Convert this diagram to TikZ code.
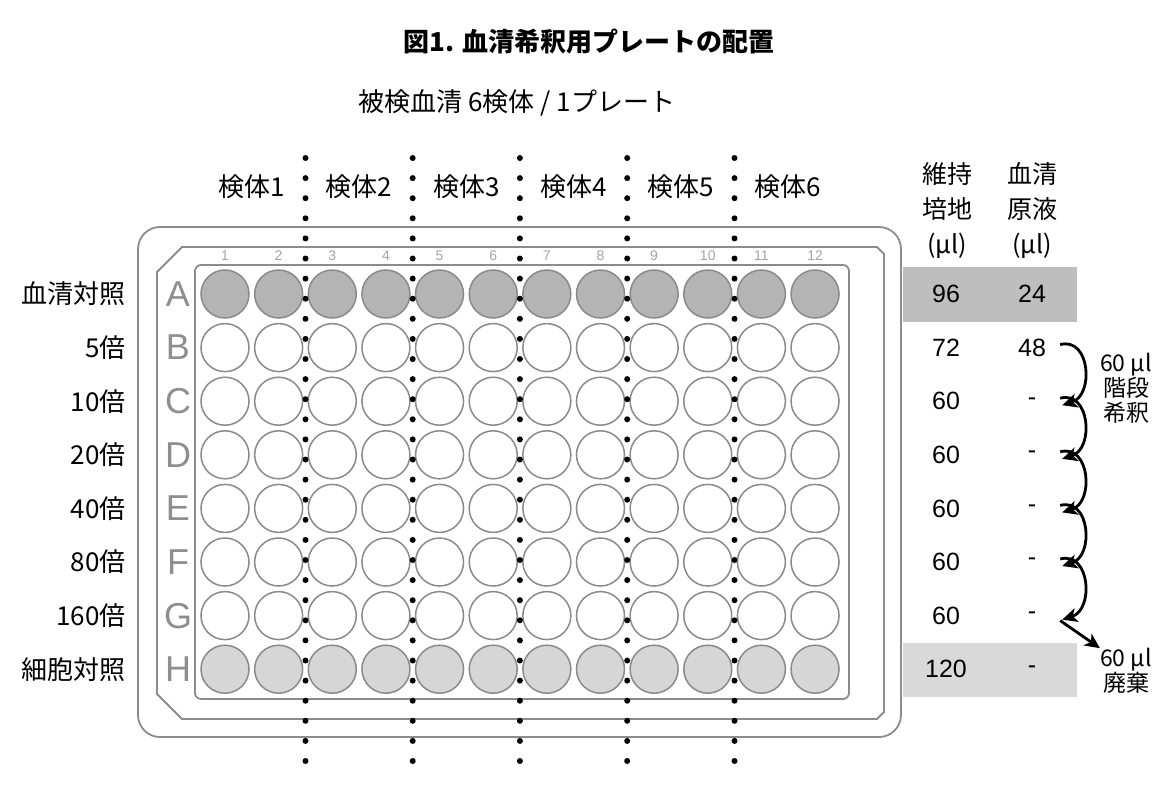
\documentclass[tikz,border=0pt]{standalone}
\usepackage{fontspec}
\setmainfont{Noto Sans CJK JP}
\newfontfamily\platefont{Liberation Sans}
\usetikzlibrary{arrows.meta,calc}
\definecolor{framegray}{HTML}{8C8C8C}
\definecolor{wellline}{HTML}{8A8A8A}
\definecolor{wellAfill}{HTML}{B4B4B4}
\definecolor{wellHfill}{HTML}{D6D6D6}
\definecolor{bandA}{HTML}{BEBEBE}
\definecolor{bandH}{HTML}{D9D9D9}
\definecolor{lettergray}{HTML}{8E8E8E}
\newcommand\bodysize{\fontsize{26}{30}\selectfont}
\newcommand\headsize{\fontsize{25}{35}\selectfont}
\newcommand\notesize{\fontsize{23}{25}\selectfont}

\begin{document}
\begin{tikzpicture}[x=1pt,y=-1pt,
  frame/.style={draw=framegray,line width=1.8pt},
  well/.style={circle,draw=wellline,line width=1.5pt,minimum size=48pt,inner sep=0pt},
  wellA/.style={well,fill=wellAfill},
  wellH/.style={well,fill=wellHfill},
  wellB/.style={well,fill=white},
  lbl/.style={font=\bodysize,inner sep=0pt},
  rowlbl/.style={lbl,anchor=east},
  cell/.style={font=\platefont\fontsize{25}{30}\selectfont,inner sep=0pt,minimum width=30pt},
  rowletter/.style={font=\platefont\fontsize{36}{36}\selectfont,text=lettergray,inner sep=0pt},
  colnum/.style={font=\platefont\fontsize{14}{14}\selectfont,text=lettergray!80,inner sep=0pt},
  arr/.style={line width=2.8pt,-{Stealth[length=15pt,width=14pt,inset=4pt]}}]
  \useasboundingbox (0,0) rectangle (1157,788);
  % titles
  \node[font=\bodysize\bfseries] (title) at (589,42) {図1. 血清希釈用プレートの配置};
  \node[lbl] (sub) at (517,103) {被検血清 6検体 / 1プレート};
  % sample headers
  \foreach \k in {1,...,6}
    \node[lbl] (k\k) at ({251.8+(\k-1)*107.28},187) {検体\k};
  % plate frames
  \draw[frame,rounded corners=22pt] (138,227) rectangle (901,737);
  \draw[frame] (157,272) -- (182,247) -- (877,247) -- (884,254) -- (884,712)
        -- (877,719) -- (182,719) -- (157,694) -- cycle;
  \draw[frame,rounded corners=6pt] (195,265) rectangle (849,699);
  % column numbers
  \foreach \c in {1,...,12}
    \node[colnum] (n\c) at ({225+(\c-1)*53.64},256) {\c};
  % wells
  \foreach \r/\s [count=\i from 0] in {A/wellA,B/wellB,C/wellB,D/wellB,
                                      E/wellB,F/wellB,G/wellB,H/wellH}{
    \node[rowletter] (r-\r) at (178,{294+\i*53.6}) {\r};
    \foreach \c in {1,...,12}
      \node[\s] (w-\r\c) at ({225+(\c-1)*53.64},{294+\i*53.6}) {};
  }
  % row labels
  \foreach \r/\t [count=\i from 0] in {A/血清対照,B/5倍,C/10倍,D/20倍,
                                      E/40倍,F/80倍,G/160倍,H/細胞対照}
    \node[rowlbl] (lab-\r) at (126,{294+\i*53.6}) {\t};
  % table
  \fill[bandA] (903,267) rectangle (1077,322);
  \fill[bandH] (903,643) rectangle (1077,697);
  \node[lbl,align=center,font=\headsize] (hd-med) at (947,210) {維持\\培地\\(µl)};
  \node[lbl,align=center,font=\headsize] (hd-ser) at (1032,210) {血清\\原液\\(µl)};
  \foreach \r/\m/\s [count=\i from 0] in {A/96/24,B/72/48,C/60/-,D/60/-,
                                         E/60/-,F/60/-,G/60/-,H/120/-}{
    \node[cell] (m-\r) at (946,{294+\i*53.6}) {\m};
    \node[cell] (s-\r) at (1032,{294+\i*53.6}) {\s};
  }
  % dilution arrows
  \node[lbl,align=center,font=\notesize] (step) at (1126,388) {60 µl\\階段\\希釈};
  \node[lbl,align=center,font=\notesize] (discard) at (1126,671) {60 µl\\廃棄};
  \foreach \a/\b in {B/C,C/D,D/E,E/F,F/G}
    \draw[arr] ([xshift=13pt,yshift=3pt]s-\a.east) .. controls +(30,-8) and +(32,-10)
          .. ([xshift=15pt,yshift=-4pt]s-\b.east);
  \draw[arr] ([xshift=13pt,yshift=-5pt]s-G.east) -- (discard.north west);
  % dotted separators
  \foreach \x in {305.5,412.7,519.9,627.2,734.5}
    \foreach \k in {0,...,30}
      \fill (\x,{158+\k*20.1}) circle (3pt);
\end{tikzpicture}
\end{document}
